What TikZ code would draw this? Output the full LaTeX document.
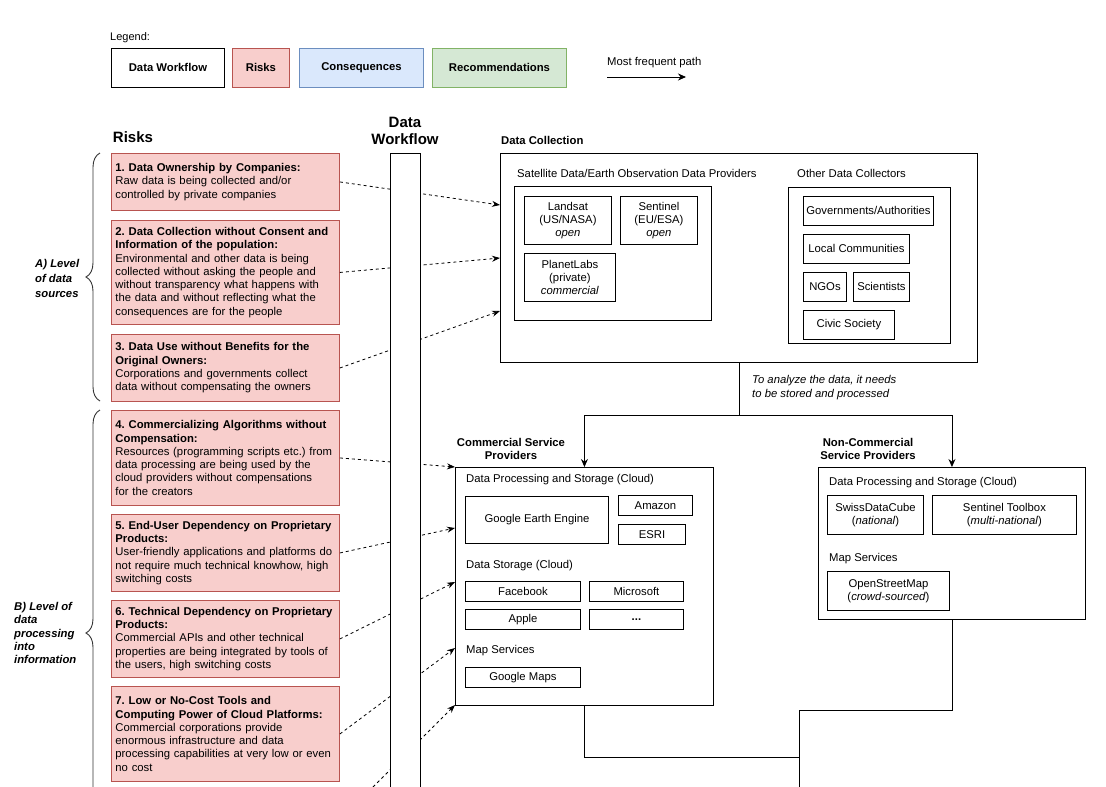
\documentclass[tikz,border=0pt]{standalone}
\usepackage{fontspec}
\setmainfont{Liberation Sans}
\usetikzlibrary{arrows.meta,decorations.pathreplacing}
\definecolor{riskfill}{HTML}{F8CECC}
\definecolor{riskdraw}{HTML}{B85450}
\definecolor{consfill}{HTML}{DAE8FC}
\definecolor{consdraw}{HTML}{6C8EBF}
\definecolor{recfill}{HTML}{D5E8D4}
\definecolor{recdraw}{HTML}{82B366}
\frenchspacing
\tikzset{
  every node/.style={font=\fontsize{11.3}{13.3}\selectfont},
  bfnode/.style={font=\fontsize{11.3}{13.3}\selectfont\bfseries},
  headnode/.style={font=\fontsize{15}{18}\selectfont\bfseries, align=center},
  riskbox/.style={draw=riskdraw, fill=riskfill, anchor=north west, text width=220pt,
    inner xsep=4pt, inner ysep=0pt, align=left, line width=0.9pt},
  legbox/.style={anchor=north west, inner sep=0pt, line width=0.9pt,
    font=\fontsize{11.3}{13.3}\selectfont\bfseries},
  ibox/.style={draw, fill=white, anchor=north west, inner sep=0pt, align=center, line width=0.9pt},
  lab/.style={anchor=west, inner sep=0pt},
  riskline/.style={dash pattern=on 3pt off 3pt, line width=0.8pt, -{Stealth[length=8pt,width=6pt]}},
  flow/.style={line width=0.9pt, -{Stealth[length=8pt,width=7pt]}},
  conn/.style={line width=0.9pt},
  bracestyle/.style={decorate, decoration={brace, amplitude=14pt}, line width=0.9pt, draw=black!80},
  bracelab/.style={anchor=west, inner sep=0pt, align=left}
}
\begin{document}
\hyphenpenalty=10000
\exhyphenpenalty=10000
\frenchspacing
\begin{tikzpicture}[x=1pt,y=-1pt]
\useasboundingbox (0,0) rectangle (1106,787);
\clip (0,0) rectangle (1106,787);
\fill[white] (0,0) rectangle (1106,787);

% ---------- Legend ----------
\node[lab, font=\fontsize{11}{13}\selectfont] (legtitle) at (110,38) {Legend:};
\node[legbox, draw=black, fill=white, minimum width=113pt, minimum height=39pt] (lwf) at (111,48) {Data Workflow};
\node[legbox, draw=riskdraw, fill=riskfill, minimum width=57pt, minimum height=39pt] (lrisk) at (232,48) {Risks};
\node[legbox, draw=consdraw, fill=consfill, minimum width=124pt, minimum height=39pt] (lcons) at (299,48) {Consequences};
\node[legbox, draw=recdraw, fill=recfill, minimum width=134pt, minimum height=39pt] (lrec) at (432,48) {Recommendations};
\node[lab] (legpath) at (607,63) {Most frequent path};
\coordinate (lpa) at (607,77);
\coordinate (lpb) at (686,77);
\draw[flow] (lpa) -- (lpb);

% ---------- Headings ----------
\node[headnode] (riskhead) at (133,137) {Risks};
\node[headnode] (wfhead) at (405,131) {Data\\[-1pt]Workflow};

% ---------- Risk boxes ----------
\node[riskbox, minimum height=57pt] (r1) at (111,153) {\textbf{1. Data Ownership by Companies:}\\Raw data is being collected and/or\\controlled by private companies};
\node[riskbox, minimum height=104pt] (r2) at (111,220) {\textbf{2. Data Collection without Consent and}\\\textbf{Information of the population:}\\Environmental and other data is being\\collected without asking the people and\\without transparency what happens with\\the data and without reflecting what the\\consequences are for the people};
\node[riskbox, minimum height=67pt] (r3) at (111,334) {\textbf{3. Data Use without Benefits for the}\\\textbf{Original Owners:}\\Corporations and governments collect\\data without compensating the owners};
\node[riskbox, minimum height=95pt] (r4) at (111,410) {\textbf{4. Commercializing Algorithms without}\\\textbf{Compensation:}\\Resources (programming scripts etc.) from\\data processing are being used by the\\cloud providers without compensations\\for the creators};
\node[riskbox, minimum height=77pt] (r5) at (111,514) {\textbf{5. End-User Dependency on Proprietary}\\\textbf{Products:}\\User-friendly applications and platforms do\\not require much technical knowhow, high\\switching costs};
\node[riskbox, minimum height=77pt] (r6) at (111,600) {\textbf{6. Technical Dependency on Proprietary}\\\textbf{Products:}\\Commercial APIs and other technical\\properties are being integrated by tools of\\the users, high switching costs};
\node[riskbox, minimum height=95pt] (r7) at (111,686) {\textbf{7. Low or No-Cost Tools and}\\\textbf{Computing Power of Cloud Platforms:}\\Commercial corporations provide\\enormous infrastructure and data\\processing capabilities at very low or even\\no cost};
\coordinate (r8) at (339,821);

% ---------- Braces ----------
\coordinate (braAb) at (100,401);
\coordinate (braAt) at (100,153);
\draw[bracestyle] (braAb) -- (braAt);
\node[bracelab, font=\fontsize{11.3}{15}\selectfont\bfseries\itshape] (labA) at (35,278) {A) Level\\of data\\sources};
\coordinate (braBb) at (100,856);
\coordinate (braBt) at (100,410);
\draw[bracestyle] (braBb) -- (braBt);
\node[bracelab, font=\fontsize{11.3}{13.3}\selectfont\bfseries\itshape] (labB) at (14,633) {B) Level of\\data\\processing\\into\\information};

% ---------- Data Collection ----------
\node[lab, bfnode] (dctitle) at (501,140) {Data Collection};
\node[ibox, minimum width=477pt, minimum height=209pt] (dc) at (500,153) {};
\node[lab] (satlab) at (517,173) {Satellite Data/Earth Observation Data Providers};
\node[ibox, minimum width=197pt, minimum height=134pt] (sat) at (514,186) {};
\node[ibox, minimum width=87pt, minimum height=48pt] (landsat) at (524,196) {Landsat\\(US/NASA)\\\textit{open}};
\node[ibox, minimum width=77pt, minimum height=48pt] (sentinel) at (620,196) {Sentinel\\(EU/ESA)\\\textit{open}};
\node[ibox, minimum width=91pt, minimum height=48pt] (planet) at (524,253) {PlanetLabs\\(private)\\\textit{commercial}};
\node[lab] (othlab) at (797,173) {Other Data Collectors};
\node[ibox, minimum width=162pt, minimum height=156pt] (other) at (788,187) {};
\node[ibox, minimum width=130pt, minimum height=29pt] (gov) at (803,196) {Governments/Authorities};
\node[ibox, minimum width=106pt, minimum height=29pt] (local) at (803,234) {Local Communities};
\node[ibox, minimum width=43pt, minimum height=29pt] (ngos) at (803,272) {NGOs};
\node[ibox, minimum width=56pt, minimum height=29pt] (sci) at (853,272) {Scientists};
\node[ibox, minimum width=91pt, minimum height=29pt] (civic) at (803,310) {Civic Society};

\node[lab, align=left, font=\fontsize{11.3}{14}\selectfont\itshape] (analyze) at (752,388) {To analyze the data, it needs\\to be stored and processed};

% ---------- Commercial ----------
\node[bfnode, align=center] (csptitle) at (511,449) {Commercial Service\\Providers};
\node[ibox, minimum width=258pt, minimum height=238pt] (csp) at (455,467) {};
\node[lab] (cdps) at (466,480) {Data Processing and Storage (Cloud)};
\node[ibox, minimum width=143pt, minimum height=47pt] (gee) at (465,496) {Google Earth Engine};
\node[ibox, minimum width=74pt, minimum height=20pt] (amazon) at (618,495) {Amazon};
\node[ibox, minimum width=67pt, minimum height=20pt] (esri) at (618,524) {ESRI};
\node[lab] (cds) at (466,566) {Data Storage (Cloud)};
\node[ibox, minimum width=115pt, minimum height=20pt] (fb) at (465,581) {Facebook};
\node[ibox, minimum width=94pt, minimum height=20pt] (ms) at (589,581) {Microsoft};
\node[ibox, minimum width=115pt, minimum height=20pt] (apple) at (465,609) {Apple};
\node[ibox, minimum width=94pt, minimum height=20pt] (etc) at (589,609) {\textbf{...}};
\node[lab] (cms) at (466,651) {Map Services};
\node[ibox, minimum width=115pt, minimum height=20pt] (gmaps) at (465,667) {Google Maps};

% ---------- Non-commercial ----------
\node[bfnode, align=center] (ncsptitle) at (868,449) {Non-Commercial\\Service Providers};
\node[ibox, minimum width=267pt, minimum height=152pt] (ncsp) at (818,467) {};
\node[lab] (ndps) at (829,483) {Data Processing and Storage (Cloud)};
\node[ibox, minimum width=96pt, minimum height=39pt] (sdc) at (827,495) {SwissDataCube\\(\textit{national})};
\node[ibox, minimum width=144pt, minimum height=39pt] (stb) at (932,495) {Sentinel Toolbox\\(\textit{multi-national})};
\node[lab] (nms) at (829,559) {Map Services};
\node[ibox, minimum width=122pt, minimum height=39pt] (osm) at (827,571) {OpenStreetMap\\(\textit{crowd-sourced})};

% ---------- Main flow ----------
\draw[flow] (dc.south) -- ++(0,53) -| (csp.north);
\draw[flow] (dc.south) -- ++(0,53) -| (ncsp.north);
\coordinate (m1) at (799,757);
\coordinate (m2) at (799,710);
\coordinate (down) at (799,800);
\draw[conn] (csp.south) |- (m1);
\draw[conn] (ncsp.south) |- (m2) -- (down);

% ---------- Risk connectors ----------
\coordinate (t1) at (500,205);
\coordinate (t2) at (500,258);
\coordinate (t3) at (500,311);
\coordinate (t4) at (455,467);
\coordinate (t5) at (455,528);
\coordinate (t6) at (455,582);
\coordinate (t7) at (455,648);
\coordinate (t8) at (455,705);
\draw[riskline] (r1.east) -- (t1);
\draw[riskline] (r2.east) -- (t2);
\draw[riskline] (r3.east) -- (t3);
\draw[riskline] (r4.east) -- (t4);
\draw[riskline] (r5.east) -- (t5);
\draw[riskline] (r6.east) -- (t6);
\draw[riskline] (r7.east) -- (t7);
\draw[riskline] (r8) -- (t8);

% ---------- Workflow column ----------
\node[draw, fill=white, anchor=north west, inner sep=0pt, minimum width=30pt, minimum height=660pt, line width=0.9pt] (wf) at (390,153) {};
\end{tikzpicture}
\end{document}
